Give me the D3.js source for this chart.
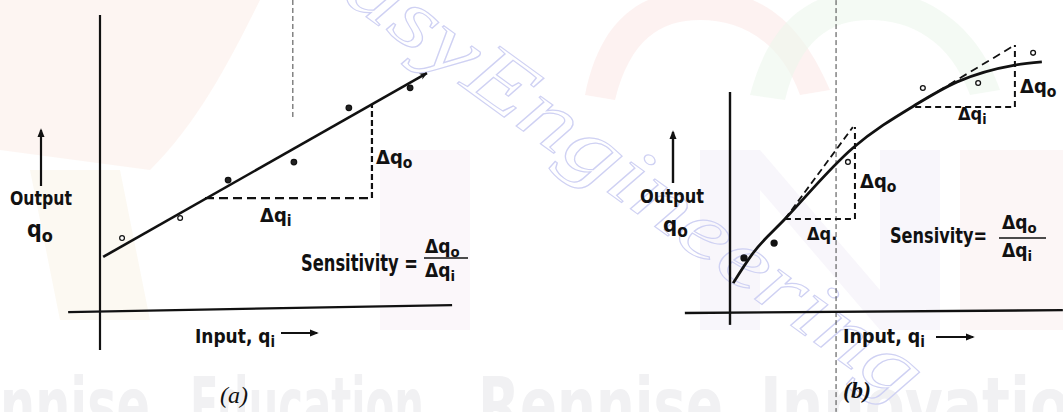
<!DOCTYPE html>
<html><head><meta charset="utf-8">
<script src="https://cdn.jsdelivr.net/npm/d3@7/dist/d3.min.js"></script>
<style>
html,body{margin:0;padding:0;background:#fff;}
svg{display:block;}
.lbl{font-family:"DejaVu Sans Condensed","DejaVu Sans",sans-serif;fill:#111;}
</style></head>
<body>
<svg id="chart" width="1063" height="412"></svg>
<script>
// ---------- DATA (panel a: linear calibration) ----------
const aAxisX   = [[-9.1,-0.7],[100.6,1.7]];
const aAxisY   = [[0,-13.8],[0,101.7]];
const aFitLine = [[0.9,18.3],[93.4,81.7]];
const aPointsX = [6.3,22.9,36.6,55.4,71.1,88.6];
const aPointsY = [24.8,31.7,44.8,51.0,69.7,76.6];
const aPointsFilled = [false,false,true,true,true,true];
const aDeltaQi = [[30.0,38.6],[77.7,38.6]];
const aDeltaQo = [[77.7,38.6],[77.7,71.0]];
const aFold    = [[55.1,106.9],[55.1,66.2]];

// ---------- DATA (panel b: nonlinear calibration) ----------
const bAxisX   = [[-12.9,0],[95.1,1.0]];
const bAxisY   = [[0,-4.1],[0,76.2]];
const bCurveX  = [0.9,6.6,15.7,35.1,52.9,64.9,81.4,89.1];
const bCurveY  = [10.3,20.7,32.4,56.9,71.7,79.7,85.5,86.6];
const bPointsX = [4.0,12.6,33.7,55.1,70.9,86.6];
const bPointsY = [19.0,24.1,52.1,77.6,79.3,89.7];
const bPointsFilled = [true,true,false,false,false,false];
const bTangent1 = [[15.7,32.4],[35.1,64.1]];
const bDeltaQi1 = [[15.7,32.4],[35.7,32.4]];
const bDeltaQo1 = [[35.7,32.4],[35.7,64.1]];
const bTangent2 = [[52.9,71.7],[81.4,92.4]];
const bDeltaQi2 = [[52.9,71.0],[81.4,71.0]];
const bDeltaQo2 = [[81.4,71.0],[81.4,92.4]];
const bFold    = [[30.3,107.9],[30.3,-34.1]];

const svg = d3.select("#chart");

// ---------- faint watermark background ----------
const wm = svg.append("g");
wm.append("path").attr("d","M0,0 L260,0 C230,60 200,120 150,170 L0,150 Z").attr("fill","#fbeee9").attr("opacity",0.6);
wm.append("path").attr("d","M585,95 C600,20 640,-10 700,-10 C760,-10 800,20 830,90 L800,95 C780,40 740,20 700,20 C660,20 630,40 615,100 Z").attr("fill","#fbe9e8").attr("opacity",0.6);
wm.append("path").attr("d","M750,95 C770,20 810,-10 870,-10 C930,-10 980,30 1000,90 L970,95 C950,40 910,20 870,20 C830,20 800,40 785,100 Z").attr("fill","#ecf6ec").attr("opacity",0.6);
wm.append("path").attr("d","M30,170 L120,170 L150,320 L60,320 Z").attr("fill","#faf5ea").attr("opacity",0.6);
wm.append("path").attr("d","M700,150 L760,150 L880,290 L880,150 L940,150 L940,330 L880,330 L760,190 L760,330 L700,330 Z").attr("fill","#f5f2fa").attr("opacity",0.7);
wm.append("path").attr("d","M960,150 L1063,150 L1063,330 L960,330 Z").attr("fill","#faf0f0").attr("opacity",0.6);
wm.append("path").attr("d","M380,150 L470,150 L470,330 L380,330 Z").attr("fill","#f9f2f6").attr("opacity",0.6);

const wmText = [["nnise",0,150],["Education,",190,250],["Rennise",478,245],["Innovatio",760,310]];
wm.selectAll("text.wmt").data(wmText).join("text")
  .attr("x",d=>d[1]).attr("y",432).attr("textLength",d=>d[2]).attr("lengthAdjust","spacingAndGlyphs")
  .attr("font-family","DejaVu Sans Condensed").attr("font-weight","bold").attr("font-size",76)
  .attr("fill","#f1f1f3").text(d=>d[0]);

wm.append("text").attr("transform","translate(285,-42) rotate(36)")
  .attr("font-family","Liberation Serif").attr("font-style","italic").attr("font-size",84)
  .attr("textLength",760).attr("lengthAdjust","spacingAndGlyphs")
  .attr("fill","none").attr("stroke","#cfd1f3").attr("stroke-width",1.1)
  .text("EasyEngineering");

// ---------- defs ----------
const defs = svg.append("defs");
defs.append("marker").attr("id","head").attr("viewBox","0 0 10 10").attr("refX",8).attr("refY",5)
  .attr("markerWidth",9).attr("markerHeight",9).attr("markerUnits","userSpaceOnUse").attr("orient","auto")
  .append("path").attr("d","M0,1 L10,5 L0,9 Z").attr("fill","#111");
defs.append("marker").attr("id","headS").attr("viewBox","0 0 10 10").attr("refX",9).attr("refY",5)
  .attr("markerWidth",8).attr("markerHeight",8).attr("markerUnits","userSpaceOnUse").attr("orient","auto")
  .append("path").attr("d","M0,1 L10,5 L0,9 L3,5 Z").attr("fill","#111");

// ---------- scales ----------
const xa = d3.scaleLinear().domain([0,100]).range([100,450]);
const ya = d3.scaleLinear().domain([0,100]).range([310,20]);
const xb = d3.scaleLinear().domain([0,100]).range([730,1080]);
const yb = d3.scaleLinear().domain([0,100]).range([313,23]);
const lineA = d3.line().x(d=>xa(d[0])).y(d=>ya(d[1]));
const lineB = d3.line().x(d=>xb(d[0])).y(d=>yb(d[1]));

function seg(g, gen, pts, w, dash, col){
  return g.append("path").attr("d",gen(pts)).attr("fill","none")
    .attr("stroke",col||"#111").attr("stroke-width",w)
    .attr("stroke-dasharray",dash||null).attr("stroke-linecap","butt");
}

// ---------- Panel a ----------
const ga = svg.append("g");
seg(ga, lineA, aFold, 1, "5,3", "#444");
seg(ga, lineA, aAxisY, 2.2);
seg(ga, lineA, aAxisX, 2.2);
seg(ga, lineA, aFitLine, 2.6).attr("marker-end","url(#headS)");
seg(ga, lineA, aDeltaQi, 2.2, "9,5");
seg(ga, lineA, aDeltaQo, 2.2, "6,3");
ga.selectAll("circle").data(aPointsX.map((x,i)=>({x,y:aPointsY[i],f:aPointsFilled[i]}))).join("circle")
  .attr("cx",d=>xa(d.x)).attr("cy",d=>ya(d.y)).attr("r",d=>d.f?2.8:2.4)
  .attr("fill",d=>d.f?"#222":"#fff").attr("stroke","#111").attr("stroke-width",1.2);

// ---------- Panel b ----------
const gb = svg.append("g");
seg(gb, lineB, bFold, 1, "5,3", "#444");
seg(gb, lineB, bAxisY, 2.4);
seg(gb, lineB, bAxisX, 2.4);
const curveGen = d3.line().x(d=>xb(d[0])).y(d=>yb(d[1])).curve(d3.curveMonotoneX);
gb.append("path").attr("d",curveGen(bCurveX.map((x,i)=>[x,bCurveY[i]])))
  .attr("fill","none").attr("stroke","#111").attr("stroke-width",2.8);
seg(gb, lineB, bTangent1, 1.8, "7,4");
seg(gb, lineB, bDeltaQi1, 2, "6,4");
seg(gb, lineB, bDeltaQo1, 2, "6,4");
seg(gb, lineB, bTangent2, 1.8, "8,5");
seg(gb, lineB, bDeltaQi2, 2, "6,4");
seg(gb, lineB, bDeltaQo2, 2, "6,4");
gb.selectAll("circle").data(bPointsX.map((x,i)=>({x,y:bPointsY[i],f:bPointsFilled[i]}))).join("circle")
  .attr("cx",d=>xb(d.x)).attr("cy",d=>yb(d.y)).attr("r",d=>d.f?3:2.4)
  .attr("fill",d=>d.f?"#111":"#fff").attr("stroke","#111").attr("stroke-width",1.3);

// ---------- text helpers ----------
function label(g, x, y, main, sub, size, bold, tl){
  const t = g.append("text").attr("class","lbl").attr("x",x).attr("y",y)
    .attr("font-size",size).attr("font-weight",bold?"bold":"normal");
  if(tl) t.attr("textLength",tl).attr("lengthAdjust","spacingAndGlyphs");
  t.append("tspan").text(main);
  if(sub) t.append("tspan").attr("dy",size*0.22).attr("font-size",size*0.78).text(sub);
  return t;
}
function arrowLine(g,x1,y1,x2,y2,w,m){
  g.append("line").attr("x1",x1).attr("y1",y1).attr("x2",x2).attr("y2",y2)
   .attr("stroke","#111").attr("stroke-width",w).attr("marker-end","url(#"+m+")");
}

// Panel a text
label(ga,10,205,"Output",null,20,true,62);
label(ga,27,237,"q","o",23,true);
arrowLine(ga,41,186,41,130,2.2,"head");
label(ga,376,164,"Δq","o",20,true);
label(ga,260,222,"Δq","i",20,true);
label(ga,301,271,"Sensitivity =",null,23,true,117);
label(ga,425,253,"Δq","o",19,true);
ga.append("line").attr("x1",424).attr("x2",468).attr("y1",258).attr("y2",258).attr("stroke","#111").attr("stroke-width",1.6);
label(ga,425,277,"Δq","i",19,true);
label(ga,195,343,"Input, q","i",20,true,80);
arrowLine(ga,281,333,317,333,2,"head");
ga.append("text").attr("x",220).attr("y",403).attr("font-family","Liberation Serif").attr("font-style","italic")
  .attr("font-size",24).attr("fill","#111").text("(a)");

// Panel b text
label(gb,640,203,"Output",null,20,true,64);
label(gb,663,232,"q","o",22,true);
arrowLine(gb,673,183,673,132,2.4,"head");
label(gb,860,188,"Δq","o",20,true);
label(gb,807,240,"Δq.",null,18,true);
label(gb,890,243,"Sensivity=",null,22,true,97);
label(gb,1002,229,"Δq","o",19,true);
gb.append("line").attr("x1",999).attr("x2",1046).attr("y1",238).attr("y2",238).attr("stroke","#111").attr("stroke-width",1.6);
label(gb,1002,257,"Δq","i",19,true);
label(gb,1020,93,"Δq","o",20,true);
label(gb,958,120,"Δq","i",18,true);
label(gb,843,343,"Input, q","i",20,true,82);
arrowLine(gb,936,337,973,337,2.2,"head");
gb.append("text").attr("x",843).attr("y",398).attr("font-family","Liberation Serif").attr("font-style","italic")
  .attr("font-weight","bold").attr("font-size",24).attr("fill","#111").text("(b)");
</script>
</body></html>
